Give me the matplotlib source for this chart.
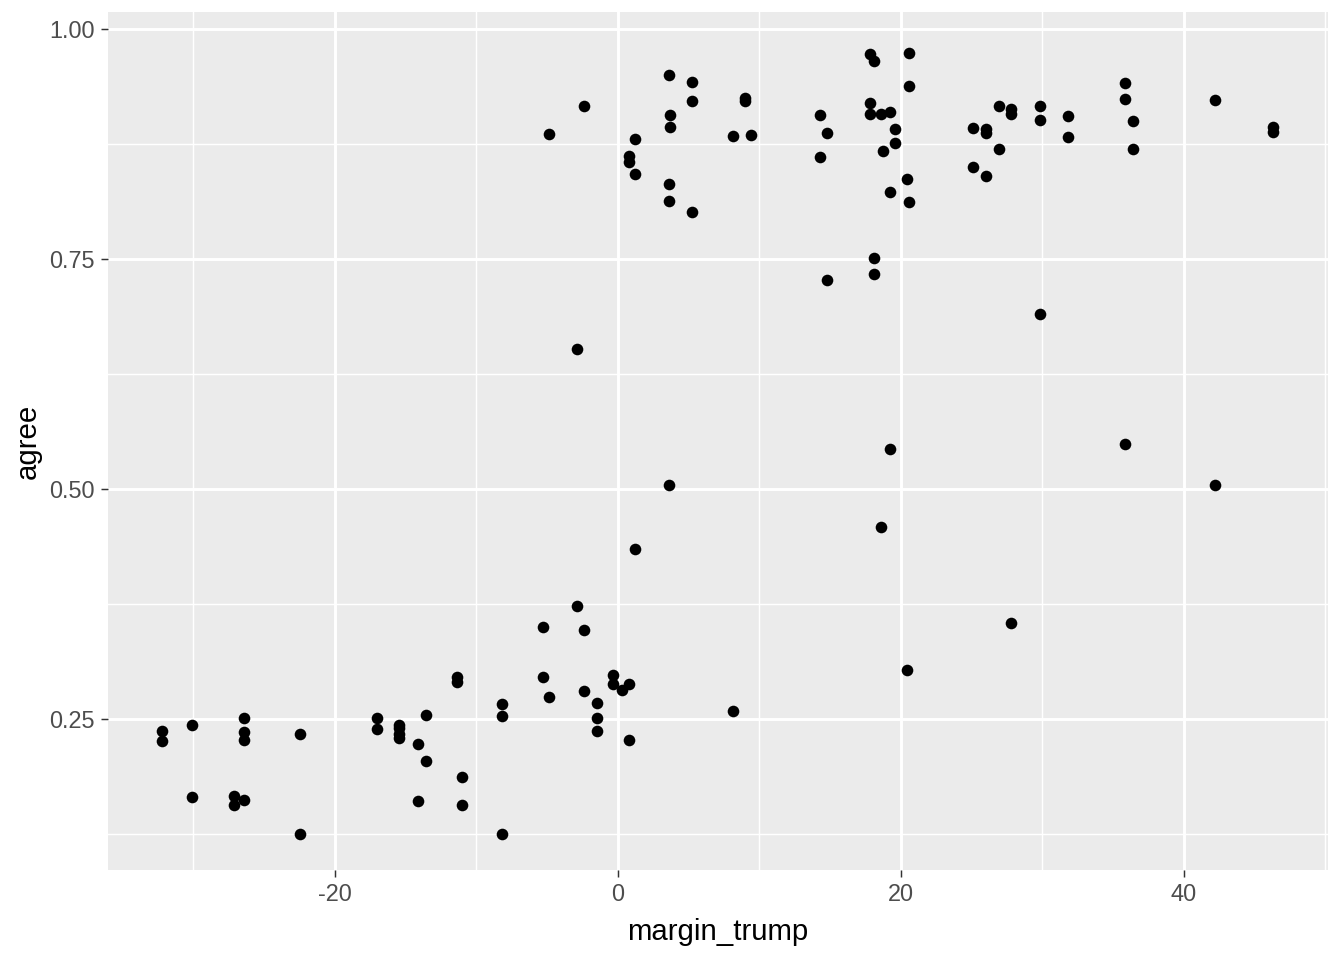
import matplotlib
matplotlib.use("Agg")
import matplotlib.pyplot as plt

plt.rcParams['font.family'] = ['Liberation Sans', 'DejaVu Sans']

# values
margin_trump = [
    -32.2, -32.2, -30.1, -30.1, -26.4, -26.4, -26.4, -27.1, -27.1, -26.4,
    -22.5, -22.5, -17.0, -17.0, -15.5, -15.5, -15.5, -15.5, -14.1, -13.6,
    -13.6, -14.1, -11.4, -11.4, -11.0, -11.0, -8.2, -8.2, -8.2,
    -5.3, -2.9, -2.4, -5.3, -4.9, -2.4, -1.5, -1.5, -1.5, -0.35,
    -0.35, 0.28, 0.8, 0.8, 8.1, 1.2, 3.6, -2.9,
    3.6, 5.2, 5.2, -2.4, 3.7, 3.7, -4.9, 1.2, 9.0, 9.0,
    8.1, 9.4, 0.8, 0.8, 1.2, 3.6, 3.6, 5.2,
    17.8, 18.1, 20.6, 20.6, 17.8, 14.3, 17.8, 18.6, 19.2, 14.8,
    19.6, 19.6, 18.7, 14.3, 20.4, 19.2, 20.6, 18.1, 18.1, 14.8,
    19.2, 18.6, 20.4,
    26.9, 27.8, 27.8, 29.8, 29.8, 25.1, 26.0, 26.0, 31.8, 31.8,
    35.8, 35.8, 36.4, 36.4, 26.9, 25.1, 26.0, 42.2, 46.3, 46.3,
    29.8, 35.8, 42.2, 27.8,
]
agree = [
    0.237, 0.226, 0.243, 0.165, 0.251, 0.236, 0.227, 0.166, 0.157, 0.162,
    0.234, 0.125, 0.251, 0.239, 0.244, 0.240, 0.234, 0.229, 0.223, 0.254,
    0.204, 0.161, 0.296, 0.290, 0.187, 0.157, 0.266, 0.253, 0.125,
    0.350, 0.373, 0.347, 0.296, 0.274, 0.280, 0.267, 0.251, 0.237, 0.298,
    0.288, 0.282, 0.288, 0.227, 0.259, 0.435, 0.504, 0.652,
    0.950, 0.942, 0.922, 0.916, 0.907, 0.894, 0.886, 0.881, 0.925, 0.922,
    0.884, 0.885, 0.862, 0.855, 0.842, 0.832, 0.813, 0.801,
    0.973, 0.965, 0.974, 0.938, 0.920, 0.907, 0.908, 0.908, 0.910, 0.887,
    0.891, 0.876, 0.867, 0.861, 0.837, 0.823, 0.812, 0.751, 0.734, 0.727,
    0.543, 0.459, 0.303,
    0.916, 0.913, 0.908, 0.916, 0.901, 0.892, 0.891, 0.887, 0.905, 0.883,
    0.941, 0.924, 0.900, 0.870, 0.870, 0.850, 0.840, 0.923, 0.893, 0.888,
    0.690, 0.549, 0.504, 0.354,
]

x_ticks = [-20, 0, 20, 40]
x_minor = [-30, -10, 10, 30, 50]
y_ticks = [0.25, 0.50, 0.75, 1.00]
y_minor = [0.125, 0.375, 0.625, 0.875]

fig = plt.figure(figsize=(7, 5), dpi=192)
ax = fig.add_axes([108 / 1344, 1 - 870 / 960, 1220 / 1344, 858 / 960])
ax.set_facecolor("#EBEBEB")

for v in x_minor:
    ax.axvline(v, color="white", linewidth=0.55, zorder=1)
for v in y_minor:
    ax.axhline(v, color="white", linewidth=0.55, zorder=1)
for v in x_ticks:
    ax.axvline(v, color="white", linewidth=1.1, zorder=1)
for v in y_ticks:
    ax.axhline(v, color="white", linewidth=1.1, zorder=1)

ax.scatter(margin_trump, agree, s=19, color="black", linewidths=0, zorder=3)

ax.set_xlim(-36.04, 50.18)
ax.set_ylim(0.0859, 1.0185)
ax.set_xticks(x_ticks)
ax.set_xticklabels(["-20", "0", "20", "40"])
ax.set_yticks(y_ticks)
ax.set_yticklabels(["0.25", "0.50", "0.75", "1.00"])

for s in ax.spines.values():
    s.set_visible(False)
ax.tick_params(length=2.75, width=0.55, color="#333333", labelcolor="#4D4D4D",
               labelsize=8.8, pad=2.2)

ax.set_xlabel("margin_trump", fontsize=11, labelpad=4.5)
ax.set_ylabel("agree", fontsize=11, labelpad=3)

fig.savefig("out.png", dpi=192)
